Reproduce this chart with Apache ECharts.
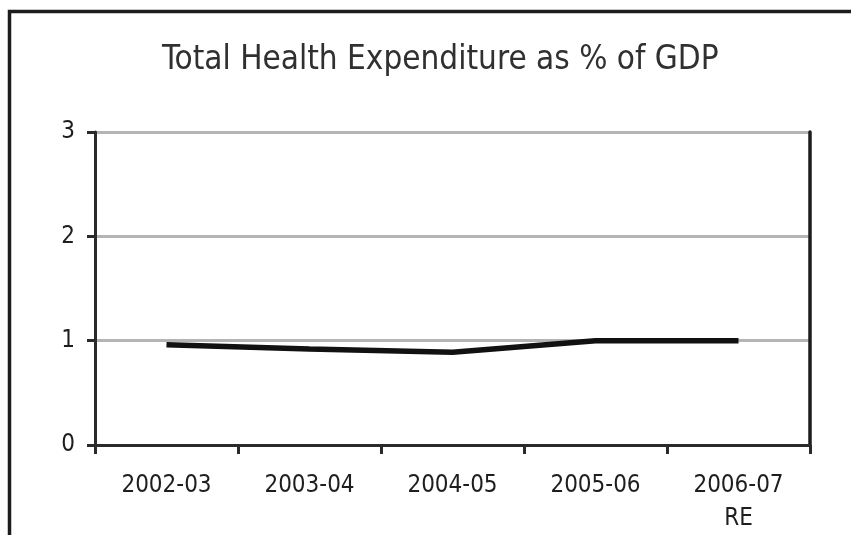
<!DOCTYPE html>
<html>
<head>
<meta charset="utf-8">
<script src="https://cdn.jsdelivr.net/npm/echarts@6/dist/echarts.min.js"></script>
<style>
  html, body { margin: 0; padding: 0; background: #fff; }
  #chart { width: 851px; height: 535px; }
</style>
</head>
<body>
<div id="chart"></div>
<script>
// Fiscal years on the category axis
const years = ['2002-03', '2003-04', '2004-05', '2005-06', '2006-07\nRE'];
// Total health expenditure, % of GDP
const healthPctGdp = [0.96, 0.92, 0.89, 1.0, 1.0];
// Value axis ticks
const yTicks = [0, 1, 2, 3];

const FONT = '"DejaVu Sans Condensed", "DejaVu Sans", sans-serif';

const chart = echarts.init(document.getElementById('chart'), null, { renderer: 'canvas' });

chart.setOption({
  backgroundColor: '#ffffff',
  animation: false,
  title: {
    text: 'Total Health Expenditure as % of GDP',
    left: 157,
    top: 39,
    textStyle: { fontFamily: FONT, fontSize: 33, fontWeight: 'normal', color: '#303030' }
  },
  graphic: [{
    type: 'polyline',
    shape: { points: [[9.5, 535], [9.5, 11.5], [851, 11.5]] },
    style: { stroke: '#1c1c1c', lineWidth: 3.5, fill: null },
    silent: true
  }],
  grid: { left: 95, right: 41, top: 132, bottom: 90 },
  xAxis: {
    type: 'category',
    data: years,
    boundaryGap: true,
    axisLine: { lineStyle: { color: '#2a2a2a', width: 3 } },
    axisTick: { show: true, length: 9, lineStyle: { color: '#2a2a2a', width: 3 } },
    axisLabel: { fontFamily: FONT, fontSize: 24, color: '#1e1e1e', margin: 24, lineHeight: 33 }
  },
  yAxis: [{
    type: 'value',
    min: yTicks[0],
    max: yTicks[yTicks.length - 1],
    interval: 1,
    axisLine: { show: true, lineStyle: { color: '#2a2a2a', width: 3 } },
    axisTick: { show: true, length: 8, lineStyle: { color: '#2a2a2a', width: 3 } },
    axisLabel: { fontFamily: FONT, fontSize: 24, color: '#1e1e1e', margin: 20 },
    splitLine: { show: true, lineStyle: { color: '#b4b4b4', width: 3 } }
  }, {
    type: 'value',
    position: 'right',
    min: yTicks[0],
    max: yTicks[yTicks.length - 1],
    interval: 1,
    axisLine: { show: true, lineStyle: { color: '#1c1c1c', width: 3.5 } },
    axisTick: { show: false },
    axisLabel: { show: false },
    splitLine: { show: false }
  }],
  series: [{
    type: 'line',
    data: healthPctGdp,
    yAxisIndex: 0,
    symbol: 'none',
    lineStyle: { color: '#111111', width: 5.5 },
    z: 5
  }]
});
</script>
</body>
</html>
